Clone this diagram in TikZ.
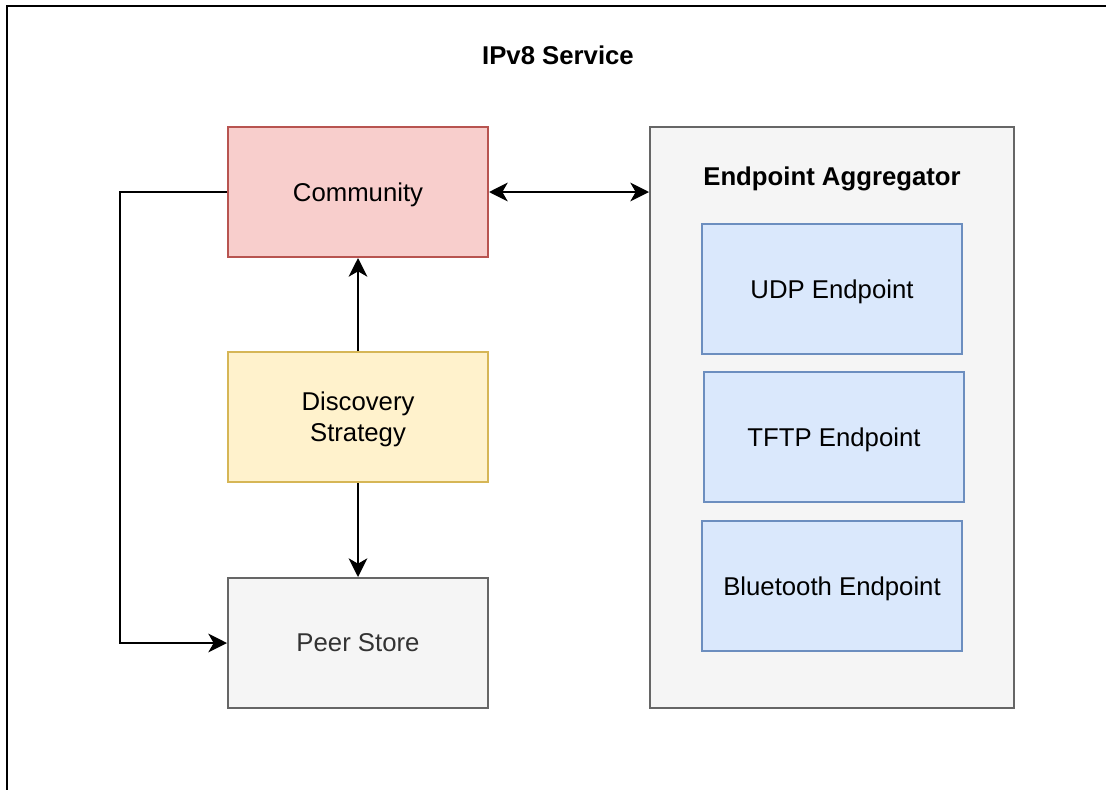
\documentclass[tikz,border=0pt]{standalone}
\usepackage{fontspec}
\setmainfont{Liberation Sans}
\usepackage{tikz}
\usetikzlibrary{arrows.meta}

\definecolor{redfill}{HTML}{F8CECC}
\definecolor{redline}{HTML}{B85450}
\definecolor{yellowfill}{HTML}{FFF2CC}
\definecolor{yellowline}{HTML}{D6B656}
\definecolor{greyfill}{HTML}{F5F5F5}
\definecolor{greyline}{HTML}{666666}
\definecolor{greytext}{HTML}{333333}
\definecolor{bluefill}{HTML}{DAE8FC}
\definecolor{blueline}{HTML}{6C8EBF}

\begin{document}
\begin{tikzpicture}[x=0.75pt,y=-0.75pt,
    font=\fontsize{19.3pt}{23.3pt}\selectfont,
    box/.style={rectangle,line width=1.5pt,minimum width=195pt,minimum height=97.5pt,align=center,inner sep=0pt,text depth=0pt},
    conn/.style={line width=1.5pt,-{Stealth[length=14pt,width=14pt,inset=4pt]}},
    biconn/.style={line width=1.5pt,{Stealth[length=14pt,width=14pt,inset=4pt]}-{Stealth[length=14pt,width=14pt,inset=4pt]}}]
  \useasboundingbox (0,0) rectangle (1106,789);
  % outer service frame, cut off at the right and bottom
  \begin{scope}
    \clip (0,0) rectangle (1106,789);
    \draw[line width=1.8pt] (7,6) rectangle (1200,900);
  \end{scope}
  \node[font=\fontsize{19.3pt}{23.3pt}\selectfont\bfseries] (title) at (558,55) {IPv8 Service};

  % left column
  \node[box,fill=redfill,draw=redline] (community) at (358,192) {Community};
  \node[box,fill=yellowfill,draw=yellowline] (discovery) at (358,417) {Discovery\\Strategy};
  \node[box,fill=greyfill,draw=greyline,text=greytext] (peerstore) at (358,643) {Peer Store};

  % endpoint aggregator
  \node[rectangle,line width=1.5pt,fill=greyfill,draw=greyline,minimum width=273pt,minimum height=435.75pt,inner sep=0pt] (aggregator) at (832,417.5) {};
  \node[font=\fontsize{19.3pt}{23.3pt}\selectfont\bfseries,text depth=0pt] (aggtitle) at (832,176) {Endpoint Aggregator};
  \node[box,fill=bluefill,draw=blueline] (udp) at (832,289) {UDP Endpoint};
  \node[box,fill=bluefill,draw=blueline] (tftp) at (834,437) {TFTP Endpoint};
  \node[box,fill=bluefill,draw=blueline] (bluetooth) at (832,586) {Bluetooth Endpoint};

  % connectors
  \draw[biconn] (community.east) -- (aggregator.west |- community.east);
  \draw[conn] (discovery) -- (community);
  \draw[conn] (discovery) -- (peerstore);
  \coordinate (bendtop) at (120,192);
  \coordinate (bendbot) at (120,643);
  \draw[conn] (community.west) -- (bendtop) -- (bendbot) -- (peerstore.west);
\end{tikzpicture}
\end{document}
